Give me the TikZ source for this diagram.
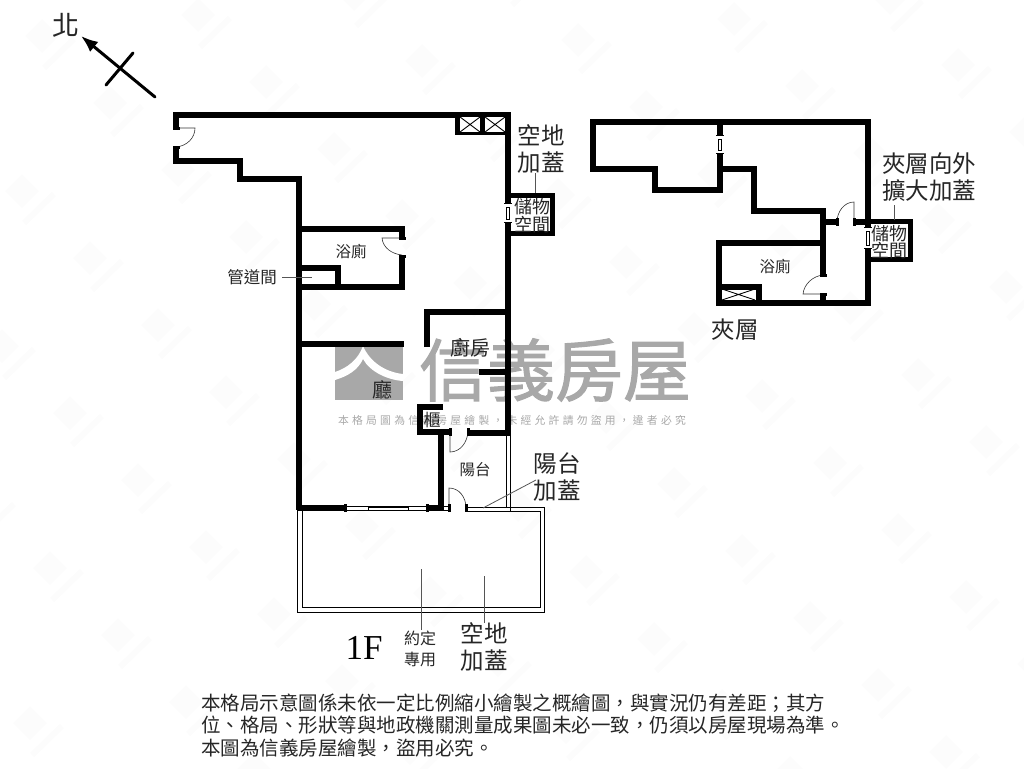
\documentclass[tikz,border=0pt]{standalone}
\usepackage{fontspec}
\usetikzlibrary{arrows.meta}
\setmainfont{Liberation Serif}
\newfontfamily\cjk{Noto Sans CJK TC}
\newfontfamily\cjkmark[FakeBold=1.6]{Noto Sans CJK TC}
\newfontfamily\cjkwide[LetterSpace=30]{Noto Sans CJK TC}
\newcommand{\qcomma}{\char"FF0C\relax}
\newcommand{\qsemi}{\char"FF1B\relax}
\definecolor{markgrey}{HTML}{A8A8A8}
\definecolor{leadgrey}{HTML}{555555}
\definecolor{tilegrey}{HTML}{FCFCFC}
\tikzset{
  wall/.style={line width=5.4pt,line cap=butt,line join=miter},
  thinline/.style={line width=.9pt},
  leader/.style={line width=.8pt,leadgrey},
  doorleaf/.style={line width=.6pt,black!80},
  cjklabel/.style={font=\cjk,inner sep=0pt,text=black!85,align=center},
}
\begin{document}
\begin{tikzpicture}[x=1pt,y=-1pt]
    \useasboundingbox (0,0) rectangle (1024,768);

    \begin{scope}
      \clip (0,0) rectangle (1024,768);
      \foreach \tilei in {-4,...,16} {
        \foreach \tilej in {-4,...,11} {
          \pgfmathsetmacro{\tilex}{198+68*\tilei-88*\tilej}
          \pgfmathsetmacro{\tiley}{15+67*\tilei+88*\tilej}
          \fill [tilegrey] (\tilex-17,\tiley) -- (\tilex,\tiley-17) -- (\tilex+17,\tiley) -- (\tilex,\tiley+17) -- cycle;
          \draw [tilegrey,line width=6pt] (\tilex+2,\tiley+32) -- (\tilex+32,\tiley+3);
        }
      }
    \end{scope}

    \fill [markgrey] (335,347) rectangle (403,400);
    \fill [white] (363,346) .. controls (358,360) and (347,368) .. (335,372) -- (335,380)
      .. controls (348,376) and (358,370) .. (363,359) .. controls (370,372) and (388,380) .. (403,381)
      -- (403,374) .. controls (385,372) and (370,362) .. (363,346) -- cycle;
    \node (markname) at (555,370) [font=\cjkmark\fontsize{68}{68}\selectfont,markgrey,inner sep=0pt] {信義房屋};
    \node (marknote) at (512,420) [font=\cjkwide\fontsize{10.8}{11}\selectfont,markgrey,inner sep=0pt]
      {本格局圖為信義房屋繪製\qcomma 未經允許請勿盜用\qcomma 違者必究};

    \draw [wall] (176,128) -- (176,115) -- (508,115) -- (508,433) -- (468,433);
    \draw [wall] (176,147) -- (176,161) -- (240,161) -- (240,179) -- (299,179) -- (299,510);
    \draw [wall] (299,229) -- (402,229) -- (402,238);
    \draw [wall] (402,256) -- (402,287) -- (299,287);
    \draw [wall] (299,268) -- (338,268) -- (338,287);
    \draw [wall] (299,344) -- (404,344);
    \draw [wall] (427,347) -- (427,312) -- (508,312);
    \draw [wall] (479,372) -- (508,372);
    \draw [wall] (443,407) -- (420,407) -- (420,432) -- (450,432);
    \draw [wall] (441,432) -- (441,510);
    \draw [wall] (296.5,508) -- (345,508);
    \draw [wall] (427,508) -- (444,508);

    \fill (455,113) rectangle (508,135);
    \foreach \boxx/\boxy/\boxw/\boxh in {460/117/20/15,485/117/20/15,722/289/33/11} {
      \fill [white] (\boxx,\boxy) rectangle ++(\boxw,\boxh);
      \draw [thinline] (\boxx,\boxy) -- ++(\boxw,\boxh) (\boxx+\boxw,\boxy) -- ++(-\boxw,\boxh);
    }

    \fill [white] (505,203) rectangle (511,222);
    \draw [thinline] (506.5,207) rectangle (509.5,219);
    \draw [thinline] (504,203) -- (512,203) (504,222) -- (512,222);
    \draw [wall,line width=5pt] (508,195.5) -- (552.5,195.5) -- (552.5,233);
    \draw [wall,line width=5pt] (505,233.5) -- (555,233.5);

    \draw [thinline] (345,506.5) -- (427,506.5) (345,510) -- (427,510);
    \draw [thinline,fill=white] (368,507) rectangle (408,510);
    \draw [thinline] (297,507) -- (297,612) -- (544,612) -- (544,507) -- (467,507);
    \draw [thinline] (302,511) -- (302,607) -- (540,607) -- (540,511) -- (467,511);
    \draw [thinline] (506,433) -- (506,507) (510,433) -- (510,511);
    \draw [thinline] (444,506.5) -- (449,506.5) (444,510) -- (449,510);

    \draw [wall,line width=3pt] (345,504) -- (345,512) (427,504) -- (427,512);
    \draw [doorleaf] (402,238) -- (382,238) .. controls (383,248) and (392,254) .. (402,255);
    \draw [doorleaf] (176,128) -- (195,128) .. controls (195,138) and (187,146) .. (176,147);
    \draw [doorleaf] (450,432) -- (450,452) .. controls (460,452) and (467,443) .. (468,432);
    \draw [doorleaf] (449,508) -- (449,488) .. controls (459,488) and (466,497) .. (466,508);
    \foreach \jambx/\jamby in {176/128,176/147,402/238,402/256} {
      \fill (\jambx-3.5,\jamby-1.5) rectangle (\jambx+3.5,\jamby+1.5);
    }
    \foreach \jambx/\jamby in {450/432,468/432,449/508,466/508} {
      \fill (\jambx-1.5,\jamby-4) rectangle (\jambx+1.5,\jamby+4);
    }

    \draw [wall] (590.3,122) -- (868,122) -- (868,303) -- (719,303) -- (719,243) -- (823,243);
    \draw [wall] (593,119.5) -- (593,169) -- (655,169) -- (655,190) -- (720,190) -- (720,153);
    \draw [wall] (720,122) -- (720,135);
    \draw [wall] (720,169) -- (754,169) -- (754,211) -- (823,211) -- (823,275);
    \draw [wall] (823,294) -- (823,305);
    \draw [wall] (823,222) -- (837,222);
    \draw [wall] (854,222) -- (868,222);
    \draw [wall] (719,287) -- (759,287) -- (759,303);
    \draw [thinline,fill=white] (718.5,139) rectangle (721.5,150);
    \draw [thinline] (716,135) -- (724,135) (716,153) -- (724,153);

    \fill [white] (865,227) rectangle (871,248);
    \draw [thinline] (866.5,231) rectangle (869.5,245);
    \draw [thinline] (864,227) -- (872,227) (864,248) -- (872,248);
    \draw [wall,line width=5pt] (868,221.5) -- (910.5,221.5) -- (910.5,259.5) -- (868,259.5);

    \draw [doorleaf] (854,222) -- (854,202) .. controls (844,202) and (837,212) .. (837,222);
    \draw [doorleaf] (823,294) -- (803,294) .. controls (804,284) and (813,276) .. (823,275);
    \foreach \jambx/\jamby in {823/275,823/294} {
      \fill (\jambx-3.5,\jamby-1.5) rectangle (\jambx+3.5,\jamby+1.5);
    }
    \foreach \jambx/\jamby in {837/222,854/222} {
      \fill (\jambx-1.5,\jamby-4) rectangle (\jambx+1.5,\jamby+4);
    }

    \node (north) at (66,25) [cjklabel,font=\cjk\fontsize{27}{27}\selectfont] {北};
    \coordinate (arrowtail) at (155,97);
    \coordinate (arrowhead) at (81,36);
    \coordinate (crossa) at (106,85);
    \coordinate (crossb) at (133,53);
    \draw [line width=3pt,-{Latex[length=17pt,width=13pt]},line cap=round] (arrowtail) -- (arrowhead);
    \draw [line width=3pt,line cap=round] (crossa) -- (crossb);

    \tikzset{small/.style={cjklabel,font=\cjk\fontsize{15.5}{15.5}\selectfont},
      big/.style={cjklabel,font=\cjk\fontsize{23.5}{27}\selectfont},
      store/.style={cjklabel,font=\cjk\fontsize{18}{15.5}\selectfont}}
    \node (yardtop) at (541,149) [big] {空地\\加蓋};
    \node (storeone) at (532,215.5) [store] {儲物\\空間};
    \node (bathone) at (351,252) [small] {浴廁};
    \node (duct) at (252,277) [cjklabel,font=\cjk\fontsize{16.5}{17}\selectfont] {管道間};
    \node (kitchen) at (470,348) [cjklabel,font=\cjk\fontsize{20}{20}\selectfont] {廚房};
    \node (hall) at (382,390) [cjklabel,font=\cjk\fontsize{20}{20}\selectfont] {廳};
    \node (cabinet) at (432,420) [cjklabel,font=\cjk\fontsize{17}{17}\selectfont] {櫃};
    \node (balcony) at (475,470) [small] {陽台};
    \node (balconyadd) at (557,477) [big] {陽台\\加蓋};
    \node (floorname) at (364,648) [font=\fontsize{35}{35}\selectfont,inner sep=0pt] {1F};
    \node (agreed) at (420,649) [cjklabel,font=\cjk\fontsize{16}{21}\selectfont] {約定\\專用};
    \node (yardbottom) at (484,647) [big] {空地\\加蓋};
    \node (mezz) at (735,330) [big] {夾層};
    \node (mezzadd) at (929,177) [big] {夾層向外\\擴大加蓋};
    \node (storetwo) at (889,242) [store] {儲物\\空間};
    \node (bathtwo) at (775,267) [small] {浴廁};
    \node (note) at (201,725) [anchor=west,inner sep=0pt,align=left,font=\cjk\fontsize{19.5}{22.5}\selectfont,text=black!85]
      {本格局示意圖係未依一定比例縮小繪製之概繪圖\qcomma 與實況仍有差距\qsemi 其方\\
       位、格局、形狀等與地政機關測量成果圖未必一致\qcomma 仍須以房屋現場為準。\\
       本圖為信義房屋繪製\qcomma 盜用必究。};

    \coordinate (yardfoot) at (535,193);
    \coordinate (yardhead) at (535,173);
    \coordinate (ductend) at (312,277);
    \coordinate (ductstart) at (282,277);
    \coordinate (balconyfoot) at (483,508);
    \coordinate (balconyhead) at (536,480);
    \coordinate (agreedfoot) at (421,630);
    \coordinate (agreedhead) at (421,569);
    \coordinate (bottomfoot) at (484,623);
    \coordinate (bottomhead) at (484,576);
    \coordinate (mezzfoot) at (894,220);
    \coordinate (mezzhead) at (894,205);
    \draw [leader] (yardhead) -- (yardfoot);
    \draw [leader] (ductstart) -- (ductend);
    \draw [leader] (balconyfoot) -- (balconyhead);
    \draw [leader] (agreedfoot) -- (agreedhead);
    \draw [leader] (bottomfoot) -- (bottomhead);
    \draw [leader] (mezzhead) -- (mezzfoot);
\end{tikzpicture}
\end{document}
